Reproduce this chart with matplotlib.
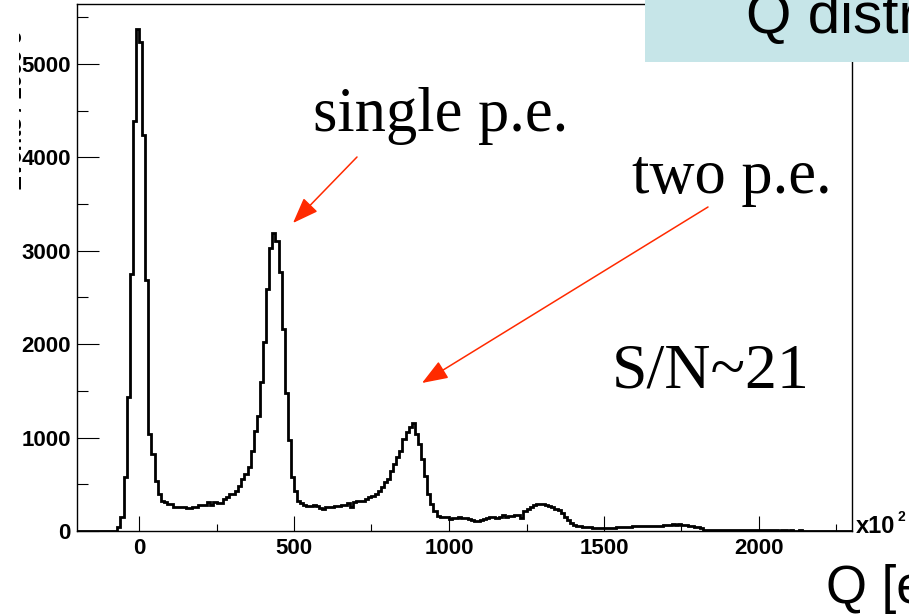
import matplotlib
matplotlib.use("Agg")
import matplotlib.pyplot as plt
import numpy as np
from matplotlib.patches import Rectangle, FancyArrowPatch
from matplotlib.transforms import Bbox

# histogram: 250 bins of width 10 (x10^2 e) from -200 to 2300
q_lo, q_hi, q_bw = -200, 2300, 10
counts = [
    0, 0, 0, 0, 0, 0, 0, 0, 0, 0, 0, 0, 0,                  # -200 .. -80
    40, 155, 575, 1430, 2752, 4393, 5375,                    # -70 .. -10
    5231, 4240, 2687, 1038, 824, 530, 400, 320, 310, 292,    # 0 .. 90
    289, 260, 253, 258, 255, 246, 250, 260, 262, 278,        # 100 .. 190
    276, 280, 306, 282, 306, 300, 302, 343, 360, 396,        # 200 .. 290
    400, 431, 485, 557, 610, 681, 860, 1074, 1234, 1591,     # 300 .. 390
    2019, 2591, 3030, 3190, 3108, 2776, 2163, 1473, 974, 581,  # 400 .. 490
    431, 324, 296, 278, 271, 271, 275, 268, 246, 235,        # 500 .. 590
    253, 253, 260, 271, 271, 282, 282, 303, 253, 306,        # 600 .. 690
    317, 317, 324, 343, 360, 378, 396, 431, 467, 520,        # 700 .. 790
    557, 646, 717, 795, 860, 985, 1056, 1110, 1152, 1038,    # 800 .. 890
    931, 771, 592, 396, 289, 217, 164, 150, 146, 146,        # 900 .. 990
    128, 139, 139, 146, 139, 139, 128, 118, 112, 110,        # 1000 .. 1090
    118, 128, 135, 146, 146, 139, 145, 171, 153, 164,        # 1100 .. 1190
    160, 175, 175, 139, 217, 235, 260, 278, 289, 292,        # 1200 .. 1290
    289, 282, 271, 253, 240, 225, 189, 153, 118, 85,         # 1300 .. 1390
    64, 56, 49, 42, 39, 39, 36, 32, 30, 32,                  # 1400 .. 1490
    28, 28, 30, 35, 39, 39, 42, 46, 46, 49,                  # 1500 .. 1590
    53, 50, 53, 55, 53, 53, 57, 53, 55, 60,                  # 1600 .. 1690
    64, 64, 71, 68, 71, 64, 64, 57, 49, 45,                  # 1700 .. 1790
    39, 30, 14, 10, 9, 8, 8, 9, 8, 7,                        # 1800 .. 1890
    8, 8, 7, 7, 8, 7, 6, 7, 7, 6,                            # 1900 .. 1990
    7, 6, 6, 7, 6, 6, 5, 6, 6, 5,                            # 2000 .. 2090
    6, 5, 5, 6, 5, 5, 4, 5, 5, 4,                            # 2100 .. 2190
    5, 4, 4, 5, 4, 4, 3, 4, 4, 3,                            # 2200 .. 2290
]
edges = np.arange(q_lo, q_hi + q_bw, q_bw)

x_major = [0, 500, 1000, 1500, 2000]
x_minor = [250, 750, 1250, 1750, 2250]
y_major = [0, 1000, 2000, 3000, 4000, 5000]
y_minor = [500, 1500, 2500, 3500, 4500, 5500]

W, H = 909, 614
fig = plt.figure(figsize=(W / 100, H / 100), dpi=100)

def fx(px):
    return px / W

def fy(py):
    return (H - py) / H

ax = fig.add_axes([fx(77), fy(531), (852 - 77) / W, (531 - 4) / H])
ax.stairs(counts, edges, color="black", lw=2.0)
ax.set_xlim(q_lo, q_hi)
ax.set_ylim(0, 5640)

ax.set_xticks(x_major)
ax.set_xticks(x_minor, minor=True)
ax.set_yticks(y_major)
ax.set_yticks(y_minor, minor=True)
ax.tick_params(axis="x", which="major", direction="in", length=11, width=0.8, pad=5)
ax.tick_params(axis="x", which="minor", direction="in", length=5, width=0.8)
ax.tick_params(axis="y", which="major", direction="in", length=16, width=0.8, pad=4.5)
ax.tick_params(axis="y", which="minor", direction="in", length=8, width=0.8)
for lbl in ax.get_xticklabels() + ax.get_yticklabels():
    lbl.set_fontfamily("Liberation Sans")
    lbl.set_fontweight("bold")
    lbl.set_fontsize(16)
for s in ax.spines.values():
    s.set_linewidth(1.0)

# x10^2 multiplier
fig.text(fx(856), fy(533), "x10", fontfamily="Liberation Sans", fontweight="bold",
         fontsize=17, va="baseline", ha="left")
fig.text(fx(898), fy(521), "2", fontfamily="Liberation Sans", fontweight="bold",
         fontsize=10, va="baseline", ha="left")

# axis title (cut by the figure edge)
fig.text(fx(826), fy(603), "Q [e]", fontfamily="Liberation Sans", fontsize=38,
         va="baseline", ha="left")

# y axis title, only a sliver left in the crop
yl = fig.text(fx(22), fy(110), "Events / 1000 e", fontfamily="Liberation Sans",
              fontweight="bold", fontsize=16, rotation=90, rotation_mode="anchor",
              ha="center", va="baseline")
yl.set_clip_box(Bbox([[19, H - 212], [22.5, H - 8]]))
yl.set_clip_on(True)

# title box
fig.patches.append(Rectangle((fx(645), fy(62)), 1 - fx(645), 62 / H,
                             transform=fig.transFigure, facecolor="#c6e5e8",
                             edgecolor="none", zorder=5))
fig.text(fx(746), fy(33), "Q distribution", fontfamily="Liberation Sans", fontsize=42,
         va="baseline", ha="left", zorder=6)

# annotations
serif = "Liberation Serif"
fig.text(fx(313), fy(131), "single p.e.", fontfamily=serif, fontsize=45,
         va="baseline", ha="left")
fig.text(fx(632), fy(193), "two p.e.", fontfamily=serif, fontsize=45,
         va="baseline", ha="left")
fig.text(fx(612), fy(387), "S/N~21", fontfamily=serif, fontsize=46,
         va="baseline", ha="left")

red = "#ff2a00"
for (x0, y0), (x1, y1) in [((357, 157), (293, 223)), ((708, 207), (422, 383))]:
    arr = FancyArrowPatch((fx(x0), fy(y0)), (fx(x1), fy(y1)), transform=fig.transFigure,
                          arrowstyle="-|>,head_length=0.8,head_width=0.3",
                          mutation_scale=20, color=red, lw=1.1,
                          shrinkA=0, shrinkB=0)
    fig.patches.append(arr)

fig.savefig("out.png", dpi=100)
